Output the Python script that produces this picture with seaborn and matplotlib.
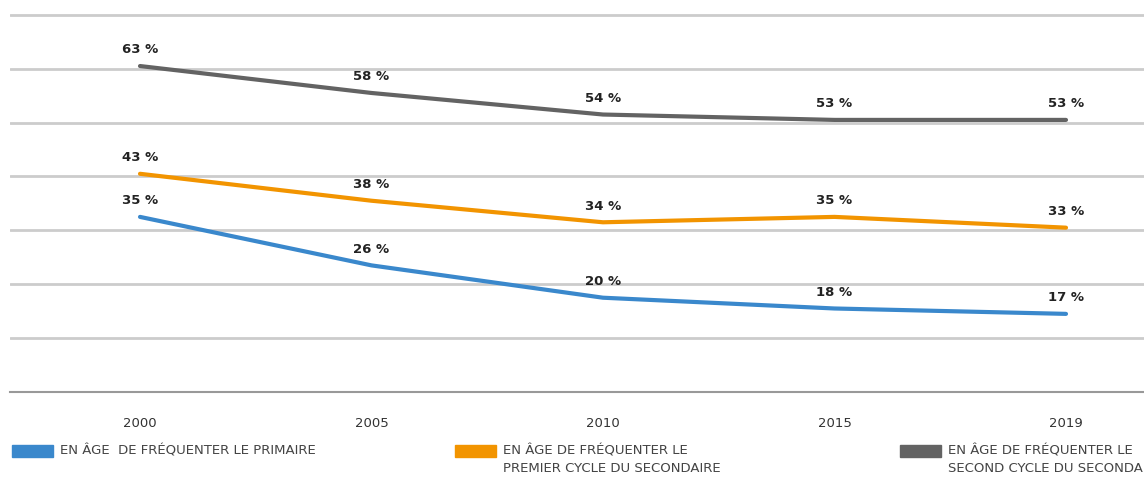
import matplotlib
matplotlib.use("Agg")
import matplotlib.pyplot as plt
from matplotlib import font_manager as fm
from matplotlib.patches import Rectangle
import numpy as np
import pandas as pd
import seaborn as sns

# Data
years = ["2000", "2005", "2010", "2015", "2019"]
primaire = [35, 26, 20, 18, 17]
premier_cycle = [43, 38, 34, 35, 33]
second_cycle = [63, 58, 54, 53, 53]

series_names = [
    "EN ÂGE  DE FRÉQUENTER LE PRIMAIRE",
    "EN ÂGE DE FRÉQUENTER LE\nPREMIER CYCLE DU SECONDAIRE",
    "EN ÂGE DE FRÉQUENTER LE\nSECOND CYCLE DU SECONDAIRE",
]
colors = ["#3a88cc", "#f29400", "#636363"]

df = pd.DataFrame({
    "annee": years * 3,
    "idx": list(range(len(years))) * 3,
    "taux": primaire + premier_cycle + second_cycle,
    "groupe": sum([[n] * len(years) for n in series_names], []),
})

sns.set_theme(style="white")
available = {f.name for f in fm.fontManager.ttflist}
narrow = "Liberation Sans Narrow" if "Liberation Sans Narrow" in available else "DejaVu Sans"
plt.rcParams["font.family"] = [narrow, "DejaVu Sans"]

W, H = 1144, 479
fig = plt.figure(figsize=(W / 100, H / 100), dpi=100)
ax = fig.add_axes([10 / W, (H - 392) / H, 1 - 10 / W, (392 - 10) / H])

sns.lineplot(data=df, x="idx", y="taux", hue="groupe", palette=colors,
             linewidth=3, legend=False, ax=ax, sort=False)

# Value labels above each point
for vals in (primaire, premier_cycle, second_cycle):
    for i, v in enumerate(vals):
        ax.annotate(f"{v} %", (i, v), xytext=(0, 7), textcoords="offset points",
                    ha="center", va="bottom", fontsize=9.5, fontweight="bold",
                    color="#222222")

ax.set_xlim(-0.5616, 4.337)
ax.set_ylim(2.5, 73.4)
ax.set_yticks(np.arange(2.5, 73, 10))
ax.set_yticklabels([])
ax.set_xticks(range(len(years)))
ax.set_xticklabels(years, fontsize=9.5, color="#333333")
ax.tick_params(axis="x", length=0, pad=18)
ax.tick_params(axis="y", length=0)
ax.set_xlabel("")
ax.set_ylabel("")
ax.grid(axis="y", color="#cccccc", linewidth=2)
ax.grid(axis="x", visible=False)
for side in ("top", "left", "right"):
    ax.spines[side].set_visible(False)
ax.spines["bottom"].set_color("#999999")
ax.spines["bottom"].set_linewidth(1.5)

# Legend along the bottom
legend_x = [12, 455, 900]
for x0, name, c in zip(legend_x, series_names, colors):
    fig.patches.append(Rectangle((x0 / W, (H - 457) / H), 41 / W, 12 / H,
                                 transform=fig.transFigure, color=c))
    fig.text((x0 + 48) / W, (H - 445) / H, name, fontsize=9.5, color="#444444",
             va="top", ha="left", linespacing=1.45)

fig.savefig("out.png", dpi=100)
